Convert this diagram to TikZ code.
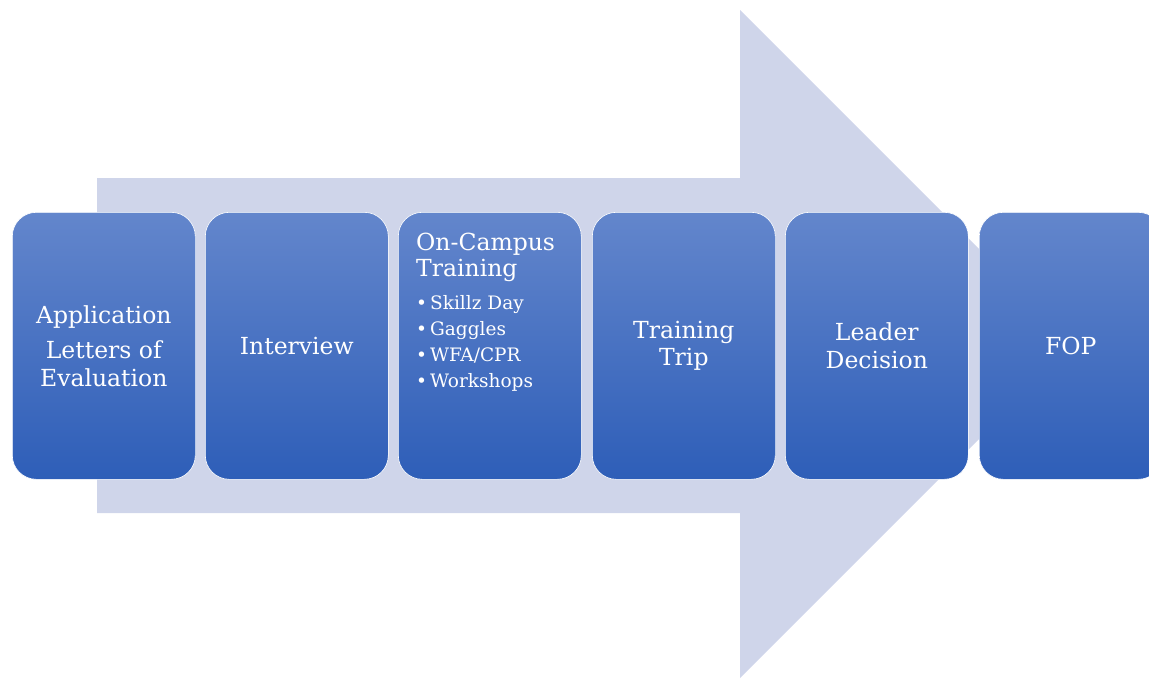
\documentclass[tikz,border=0pt]{standalone}
\usepackage{fontspec}
\setmainfont{DejaVu Serif}
\begin{document}
\begin{tikzpicture}[x=1pt,y=-1pt,
  stage/.style={rounded corners=24pt, minimum width=183pt, minimum height=267pt,
    top color=boxtop, bottom color=boxbot, draw=white, line width=0.6pt,
    anchor=north west, inner sep=0pt, text=white, align=center,
    font=\fontsize{23.5}{27.5}\selectfont},
  head/.style={text=white, anchor=base west, inner sep=0pt, font=\fontsize{23.5}{26}\selectfont},
  item/.style={text=white, anchor=base west, inner sep=0pt, font=\fontsize{18.5}{20}\selectfont}]
\definecolor{arrowfill}{HTML}{CFD5EA}
\definecolor{boxtop}{HTML}{6386CC}
\definecolor{boxbot}{HTML}{2E5EB8}
\useasboundingbox (0,0) rectangle (1149,678);
\clip (0,0) rectangle (1149,678);
\fill[arrowfill] (97,178) -- (740,178) -- (740,10) -- (1074,344) -- (740,678) -- (740,513) -- (97,513) -- cycle;
\node[stage] (b1) at (12,212) {Application\\[8pt]Letters of\\Evaluation};
\node[stage] (b2) at (205,212) {Interview};
\node[stage] (b3) at (398,212) {};
\node[stage] (b4) at (592,212) {Training\\Trip};
\node[stage] (b5) at (785,212) {Leader\\Decision};
\node[stage] (b6) at (979,212) {FOP};
\node[head] (h1) at (416,250) {On-Campus};
\node[head] (h2) at (416,276) {Training};
\node[item] (i1) at (416,309) {\textbullet\,Skillz Day};
\node[item] (i2) at (416,335) {\textbullet\,Gaggles};
\node[item] (i3) at (416,361) {\textbullet\,WFA/CPR};
\node[item] (i4) at (416,387) {\textbullet\,Workshops};
\end{tikzpicture}
\end{document}
